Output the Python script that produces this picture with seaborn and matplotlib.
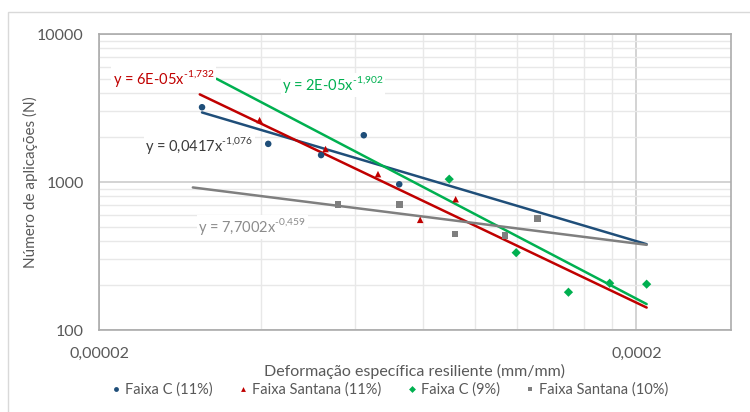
import matplotlib
matplotlib.use('Agg')
import matplotlib.pyplot as plt
from matplotlib.ticker import FixedLocator, NullFormatter
from matplotlib.patches import Rectangle
import seaborn as sns
import pandas as pd

# series names
series = ['Faixa C (11%)', 'Faixa Santana (11%)', 'Faixa C (9%)', 'Faixa Santana (10%)']

# measured points (deformacao, N)
def_c11 = [3.11e-5, 4.13e-5, 5.18e-5, 6.22e-5, 7.24e-5]
n_c11 = [3200, 1810, 1520, 2070, 965]
def_s11 = [3.98e-5, 5.28e-5, 6.61e-5, 7.92e-5, 9.22e-5]
n_s11 = [2620, 1670, 1130, 555, 765]
def_c9 = [8.97e-5, 1.195e-4, 1.495e-4, 1.784e-4, 2.09e-4]
n_c9 = [1045, 333, 180, 207, 204]
def_s10 = [5.57e-5, 7.25e-5, 9.19e-5, 1.138e-4, 1.308e-4]
n_s10 = [703, 703, 445, 436, 565]

# power trendlines y = a * x^b
trend_a = [0.0417, 6.0e-5, 1.5e-5, 7.7002]
trend_b = [-1.076, -1.732, -1.902, -0.459]
trend_start = [3.11e-5, 3.08e-5, 3.31e-5, 2.99e-5]
trend_end = [2.09e-4, 2.09e-4, 2.09e-4, 2.09e-4]
trend_labels = [r'y = 0,0417x$^{\text{-1,076}}$',
                r'y = 6E-05x$^{\text{-1,732}}$',
                r'y = 2E-05x$^{\text{-1,902}}$',
                r'y = 7,7002x$^{\text{-0,459}}$']

colors = ['#1f4e79', '#c00000', '#00b050', '#7f7f7f']
label_colors = ['#3a3a3a', '#c00000', '#00b050', '#8c8c8c']
markers = ['o', '^', 'D', 's']

xs = [def_c11, def_s11, def_c9, def_s10]
ns = [n_c11, n_s11, n_c9, n_s10]
pts = pd.concat([pd.DataFrame({'x': x, 'n': n, 'serie': s}) for x, n, s in zip(xs, ns, series)])

rows = []
for s, a, b, x0, x1 in zip(series, trend_a, trend_b, trend_start, trend_end):
    for xv in (x0, x1):
        rows.append({'x': xv, 'n': a * xv ** b, 'serie': s})
trend = pd.DataFrame(rows)

sns.set_style('white')
plt.rcParams['font.family'] = ['Lato', 'DejaVu Sans']
plt.rcParams['mathtext.fontset'] = 'custom'
plt.rcParams['mathtext.rm'] = 'Lato'
plt.rcParams['axes.unicode_minus'] = False

fig = plt.figure(figsize=(7.5, 4.12), dpi=100)
ax = fig.add_axes([99 / 750, 1 - 330 / 412, 632 / 750, 296 / 412])

pal = dict(zip(series, colors))
sns.lineplot(data=trend, x='x', y='n', hue='serie', palette=pal, legend=False,
             linewidth=1.8, ax=ax, zorder=2)
sns.scatterplot(data=pts, x='x', y='n', hue='serie', style='serie', palette=pal,
                markers=dict(zip(series, markers)), s=22, linewidth=0, ax=ax, zorder=3)

ax.set_xscale('log')
ax.set_yscale('log')
ax.set_xlim(2e-5, 3e-4)
ax.set_ylim(100, 10000)

ax.xaxis.set_major_locator(FixedLocator([2e-5, 2e-4]))
ax.xaxis.set_minor_locator(FixedLocator([4e-5, 6e-5, 8e-5, 1e-4, 1.2e-4, 1.4e-4, 1.6e-4, 1.8e-4]))
ax.set_xticklabels(['0,00002', '0,0002'])
ax.xaxis.set_minor_formatter(NullFormatter())
ax.yaxis.set_major_locator(FixedLocator([100, 1000, 10000]))
ax.yaxis.set_minor_locator(FixedLocator([200, 300, 400, 500, 600, 700, 800, 900,
                                         2000, 3000, 4000, 5000, 6000, 7000, 8000, 9000]))
ax.set_yticklabels(['100', '1000', '10000'])
ax.yaxis.set_minor_formatter(NullFormatter())

ax.grid(which='major', color='#cccccc', linewidth=1.2)
ax.grid(which='minor', color='#e8e8e8', linewidth=1.0)
ax.set_axisbelow(True)
for sp in ax.spines.values():
    sp.set_color('#ababab')
    sp.set_linewidth(1.2)
ax.tick_params(which='both', length=0, labelsize=11.5, labelcolor='#595959')
ax.tick_params(axis='x', pad=12)
ax.tick_params(axis='y', pad=11)

ax.set_xlabel('Deformação específica resiliente (mm/mm)', fontsize=11.5, color='#595959', labelpad=2)
ax.set_ylabel('Número de aplicações (N)', fontsize=11, color='#595959', labelpad=-1)

label_pos = [(0.073, 0.625), (0.022, 0.851), (0.29, 0.828), (0.157, 0.348)]
for txt, c, (px, py) in zip(trend_labels, label_colors, label_pos):
    ax.text(px, py, txt, transform=ax.transAxes, fontsize=10.5, color=c, ha='left', va='center',
            bbox=dict(facecolor='white', edgecolor='none', pad=1), zorder=4)

handles, labels = ax.get_legend_handles_labels()
ax.legend_.remove()
for h in handles:
    h.set_markersize(3.5)
fig.legend(handles, labels, loc='center', bbox_to_anchor=(0.52, 1 - 390 / 412), ncol=4,
           frameon=False, fontsize=10.5, labelcolor='#595959', handlelength=0.6,
           handletextpad=0.3, columnspacing=1.8)

fig.patches.append(Rectangle((8 / 750, -0.1), 1.2, 1 - 12 / 412 + 0.1, transform=fig.transFigure,
                             fill=False, edgecolor='#d9d9d9', linewidth=1))

fig.savefig('out.png', dpi=100)
plt.close()
